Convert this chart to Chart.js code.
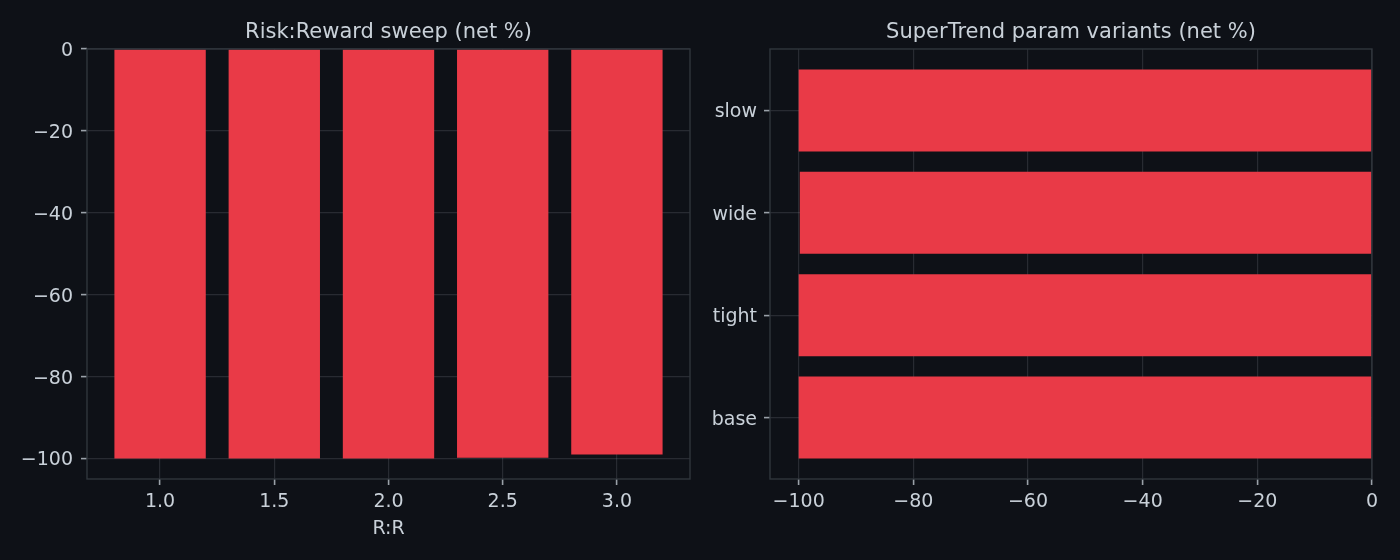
<!DOCTYPE html>
<html lang="en">
  <head>
    <meta charset="UTF-8" />
    <title>Sweep results</title>
    <style>
      body {
        margin: 0;
        padding: 0;
        background-color: #0e1117;
        width: 1400px;
        height: 560px;
        overflow: hidden;
        position: relative;
      }
      .panel {
        position: absolute;
        top: 0;
        width: 700px;
        height: 560px;
      }
    </style>
  </head>
  <body>
    <div class="panel" style="left: 0"><canvas id="rrChart" width="700" height="560"></canvas></div>
    <div class="panel" style="left: 700px"><canvas id="stChart" width="700" height="560"></canvas></div>

    <script src="https://cdn.jsdelivr.net/npm/chart.js"></script>
    <script>
      // risk:reward sweep
      const rrValues = [1.0, 1.5, 2.0, 2.5, 3.0];
      const rrNet = [-100, -100, -100, -99.8, -99.0];
      const rrYTicks = [0, -20, -40, -60, -80, -100];

      // supertrend variants (bottom to top)
      const stVariants = ["base", "tight", "wide", "slow"];
      const stNet = [-100, -100, -99.8, -100];
      const stXTicks = [-100, -80, -60, -40, -20, 0];

      const BAR = "#e93a47";
      const TEXT = "#c9d1d9";
      const GRID = "rgba(160,168,178,0.18)";
      const SPINE = "#30363d";
      const TICK = "#9aa1a9";
      const FONT = "'DejaVu Sans', sans-serif";

      const minus = (s) => String(s).replace("-", "\u2212");

      // draws the full box around the plot and the title above it
      const frame = {
        id: "frame",
        afterDraw(chart, args, opts) {
          const { ctx, chartArea: a } = chart;
          ctx.save();
          ctx.strokeStyle = SPINE;
          ctx.lineWidth = 1.4;
          ctx.strokeRect(a.left, a.top, a.right - a.left, a.bottom - a.top);
          ctx.fillStyle = TEXT;
          ctx.font = "21px " + FONT;
          ctx.textAlign = "center";
          ctx.textBaseline = "alphabetic";
          ctx.fillText(opts.text, (a.left + a.right) / 2, a.top - 11);
          ctx.restore();
        },
      };

      const tickFont = { family: FONT, size: 19 };

      function axisBase() {
        return {
          type: "linear",
          z: 1,
          offset: false,
          border: { display: false },
          grid: {
            offset: false,
            color: GRID,
            lineWidth: 1.2,
            tickColor: TICK,
            tickLength: 6,
            tickWidth: 1.6,
          },
          ticks: { color: TEXT, font: tickFont, padding: 6 },
        };
      }

      // left chart
      const rrX = axisBase();
      rrX.min = 0.68;
      rrX.max = 3.32;
      rrX.afterBuildTicks = (s) => {
        s.ticks = rrValues.map((v) => ({ value: v }));
      };
      rrX.afterFit = (s) => {
        s.height = 81;
      };
      rrX.ticks.callback = (v) => v.toFixed(1);
      rrX.title = {
        display: true,
        text: "R:R",
        color: TEXT,
        font: tickFont,
        padding: { top: 0, bottom: 20 },
      };

      const rrY = axisBase();
      rrY.min = -105;
      rrY.max = 0;
      rrY.afterBuildTicks = (s) => {
        s.ticks = rrYTicks.map((v) => ({ value: v }));
      };
      rrY.afterFit = (s) => {
        s.width = 87;
      };
      rrY.ticks.padding = 8;
      rrY.ticks.labelOffset = 2;
      rrY.ticks.callback = (v) => minus(v);

      new Chart(document.getElementById("rrChart"), {
        type: "bar",
        data: {
          datasets: [
            {
              data: rrValues.map((v, i) => ({ x: v, y: rrNet[i] })),
              backgroundColor: BAR,
              barPercentage: 0.8,
              categoryPercentage: 1.0,
            },
          ],
        },
        options: {
          responsive: false,
          animation: false,
          layout: { padding: { top: 49, right: 10, left: 0, bottom: 0 } },
          scales: { x: rrX, y: rrY },
          plugins: {
            legend: { display: false },
            tooltip: { enabled: false },
            frame: { text: "Risk:Reward sweep (net %)" },
          },
        },
        plugins: [frame],
      });

      // right chart
      const stX = axisBase();
      stX.min = -105;
      stX.max = 0;
      stX.afterBuildTicks = (s) => {
        s.ticks = stXTicks.map((v) => ({ value: v }));
      };
      stX.afterFit = (s) => {
        s.height = 81;
      };
      stX.ticks.callback = (v) => minus(v);

      const stY = axisBase();
      stY.min = -0.6;
      stY.max = 3.6;
      stY.afterBuildTicks = (s) => {
        s.ticks = stVariants.map((v, i) => ({ value: i }));
      };
      stY.afterFit = (s) => {
        s.width = 70;
      };
      stY.ticks.padding = 7;
      stY.ticks.labelOffset = 2;
      stY.ticks.callback = (v) => stVariants[v];

      new Chart(document.getElementById("stChart"), {
        type: "bar",
        data: {
          datasets: [
            {
              data: stVariants.map((v, i) => ({ y: i, x: stNet[i] })),
              backgroundColor: BAR,
              barPercentage: 0.8,
              categoryPercentage: 1.0,
            },
          ],
        },
        options: {
          indexAxis: "y",
          responsive: false,
          animation: false,
          layout: { padding: { top: 49, right: 28, left: 0, bottom: 0 } },
          scales: { x: stX, y: stY },
          plugins: {
            legend: { display: false },
            tooltip: { enabled: false },
            frame: { text: "SuperTrend param variants (net %)" },
          },
        },
        plugins: [frame],
      });
    </script>
  </body>
</html>
